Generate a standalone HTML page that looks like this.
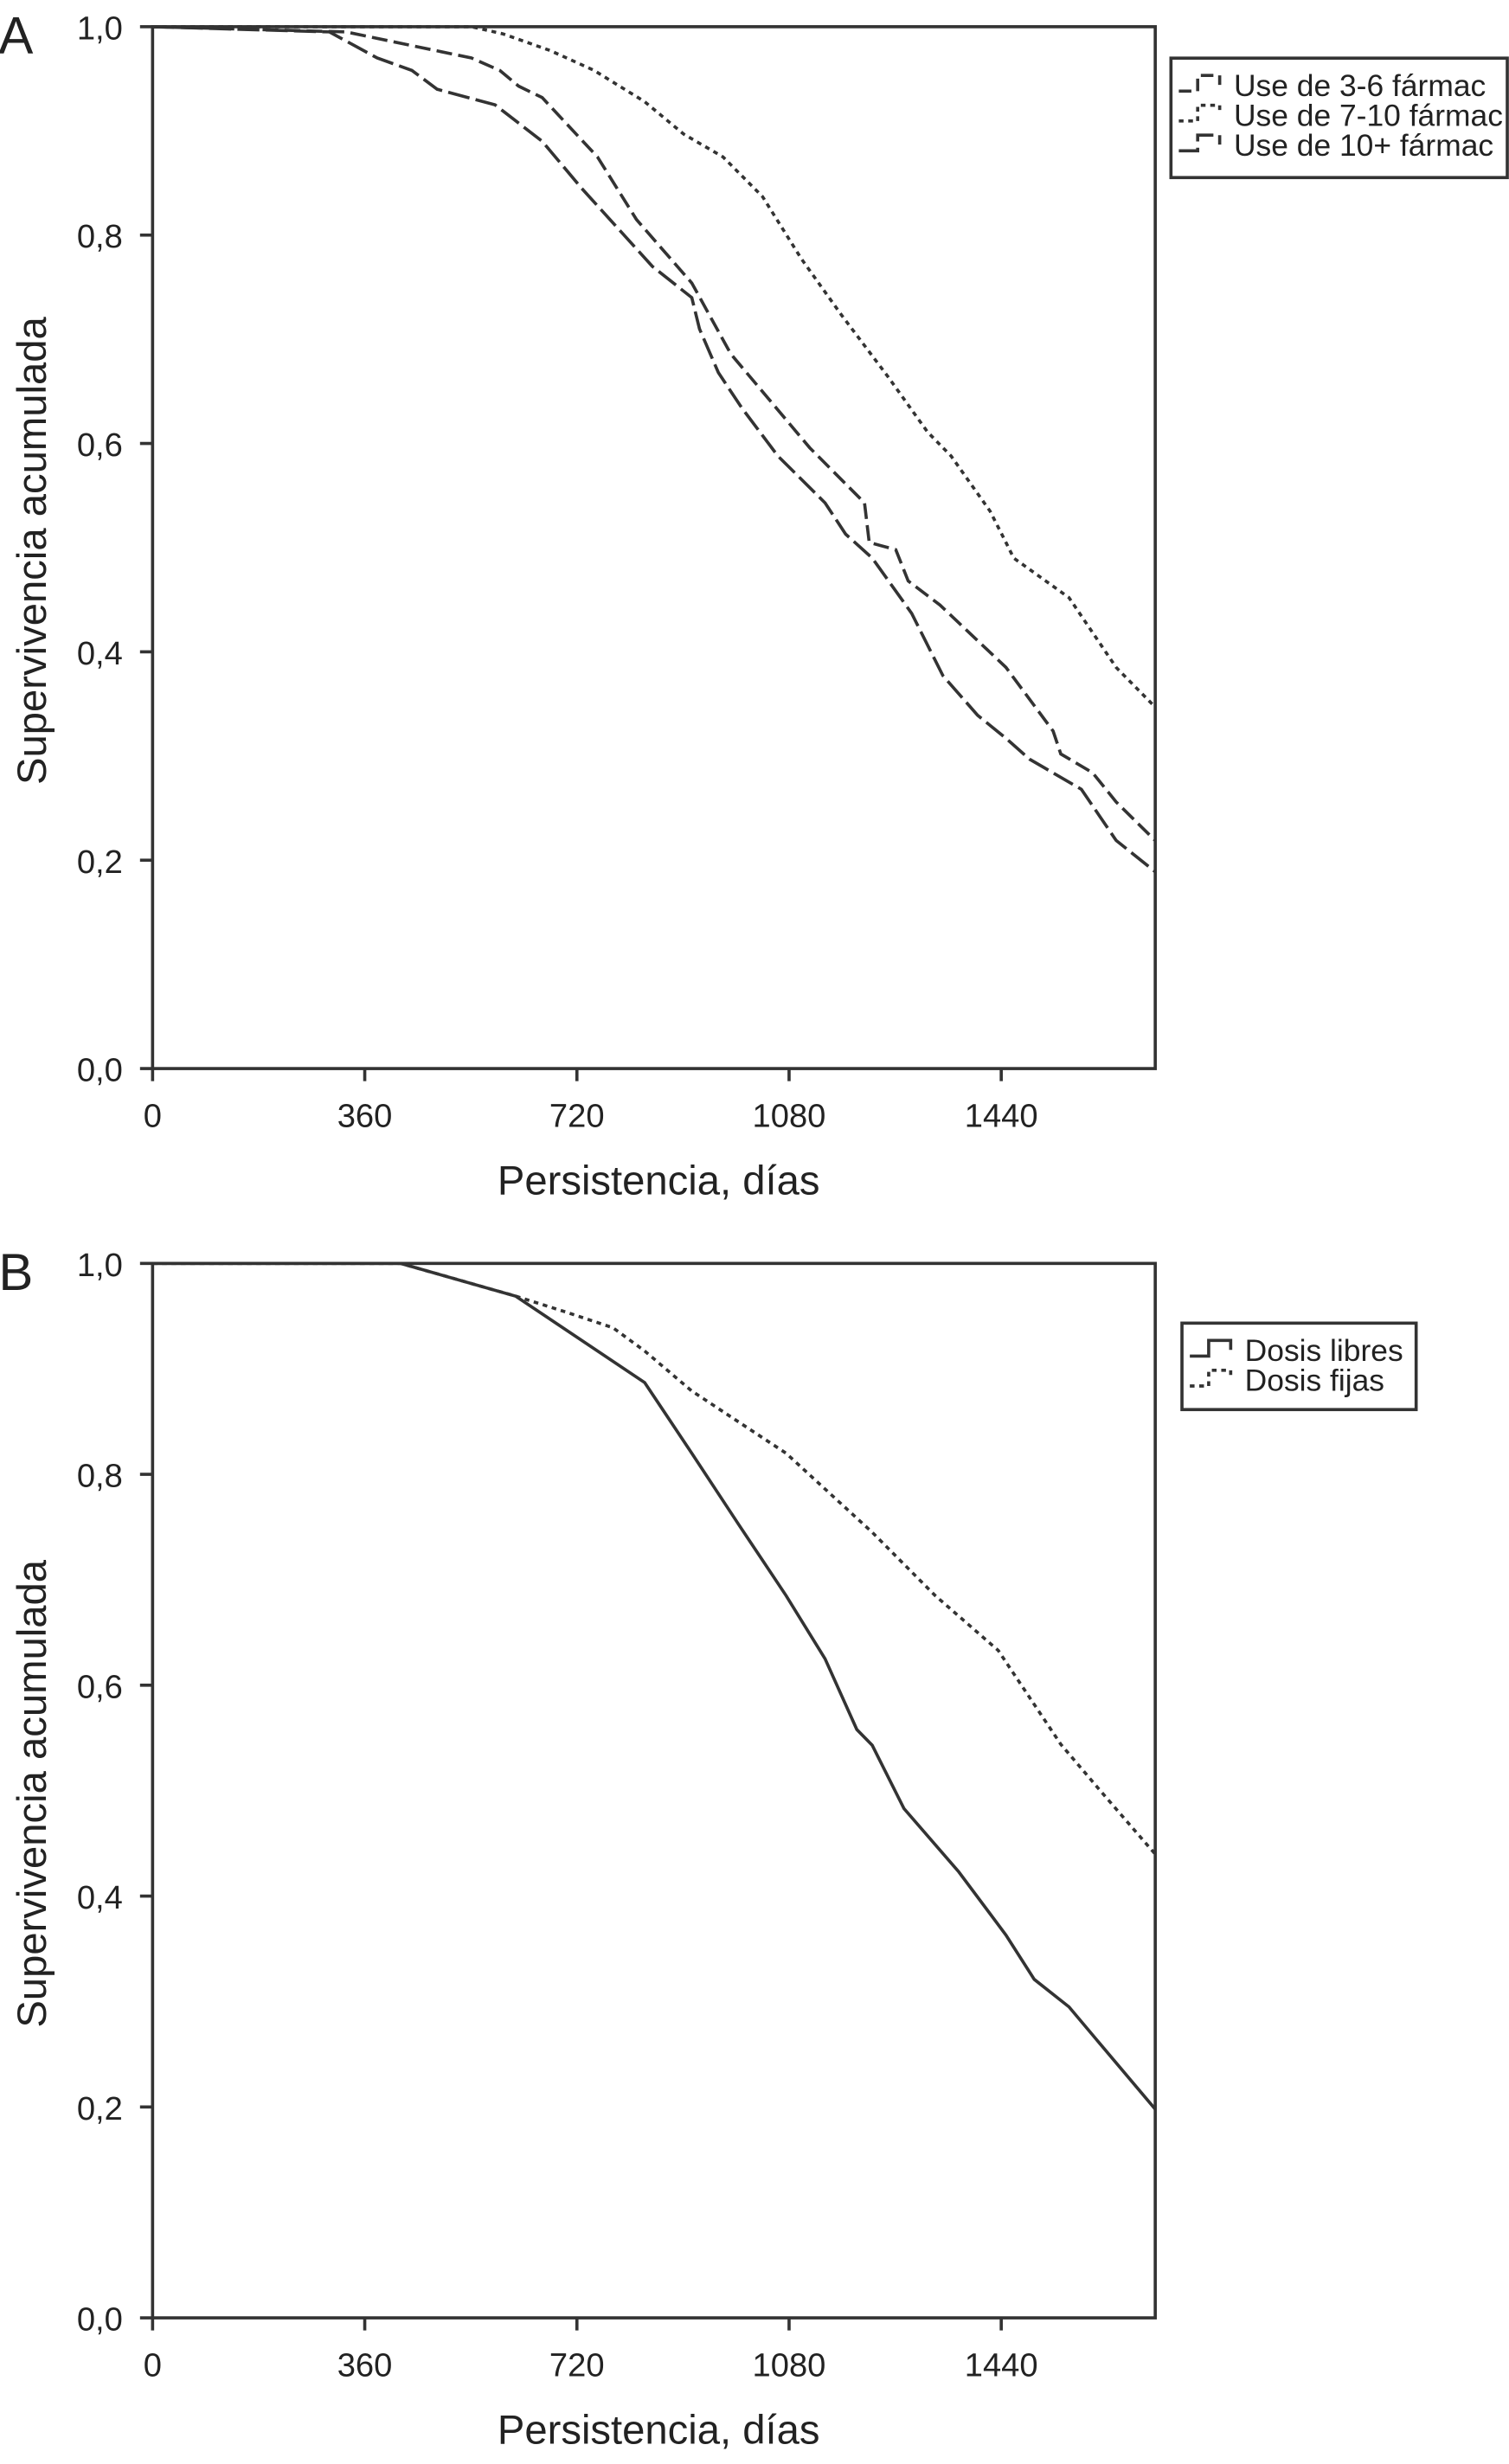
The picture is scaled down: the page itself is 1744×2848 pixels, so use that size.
<!DOCTYPE html>
<html><head><meta charset="utf-8"><style>
html,body{margin:0;padding:0;background:#fff}
svg{display:block}
text{font-family:"Liberation Sans",sans-serif;fill:#222}
</style></head><body>
<svg id="fig" width="1744" height="2848" viewBox="0 0 960 1568"></svg>
<script>
const xTicks=[0,360,720,1080,1440];
const yTicks=[0,0.2,0.4,0.6,0.8,1.0];
const yTickLabels=["0,0","0,2","0,4","0,6","0,8","1,0"];
const aDays36=[0,328,541,589,621,661,755,821,915,981,1115,1208,1216,1261,1282,1336,1448,1528,1541,1595,1635,1701];
const aSurv36=[1,0.995,0.97,0.958,0.943,0.932,0.875,0.815,0.754,0.686,0.596,0.543,0.505,0.498,0.468,0.445,0.385,0.324,0.302,0.284,0.256,0.219];
const aDays710=[0,541,595,675,749,835,901,968,1035,1101,1168,1248,1315,1355,1421,1448,1461,1555,1635,1701];
const aSurv710=[1,1,0.993,0.977,0.958,0.928,0.897,0.875,0.837,0.777,0.724,0.664,0.611,0.588,0.535,0.505,0.49,0.452,0.385,0.347];
const aDays10=[0,300,381,440,483,581,661,728,848,915,928,960,1000,1061,1141,1176,1221,1288,1341,1400,1448,1488,1576,1635,1701];
const aSurv10=[1,0.995,0.97,0.958,0.94,0.925,0.89,0.845,0.77,0.74,0.71,0.668,0.634,0.588,0.543,0.513,0.49,0.437,0.377,0.339,0.317,0.297,0.268,0.219,0.189];
const bDaysLib=[0,421,616,755,835,915,995,1075,1141,1195,1221,1275,1368,1448,1496,1555,1600,1701];
const bSurvLib=[1,1,0.969,0.917,0.887,0.82,0.752,0.685,0.625,0.558,0.543,0.483,0.423,0.363,0.321,0.295,0.265,0.198];
const bDaysFij=[0,421,616,701,781,835,915,1075,1221,1328,1435,1541,1608,1701];
const bSurvFij=[1,1,0.969,0.954,0.939,0.917,0.879,0.82,0.745,0.685,0.633,0.544,0.5,0.44];

const NS="http://www.w3.org/2000/svg";
const svg=document.getElementById('fig');
function mk(tag,attrs,parent){const e=document.createElementNS(NS,tag);for(const k in attrs)e.setAttribute(k,attrs[k]);(parent||svg).appendChild(e);return e;}

function panel(letter,top,bottom,series,legend){
  const L=97,R=735,maxD=(735-97)/0.375;
  const sx=d=>L+d*(R-L)/maxD;
  const sy=v=>bottom-v*(bottom-top);
  const g=mk('g',{});
  
  
  const lt=mk('text',{x:-1,y:top+17,'font-size':33},g);lt.textContent=letter;
  
  
  const box=mk('rect',{x:L,y:top,width:R-L,height:bottom-top,fill:'none',stroke:'#333','stroke-width':2},g);
  
  
  yTicks.forEach((v,i)=>{
    mk('line',{x1:L-8,x2:L,y1:sy(v),y2:sy(v),stroke:'#333','stroke-width':2},g);
    const t=mk('text',{x:L-19,y:sy(v)+8,'font-size':21,'text-anchor':'end'},g);t.textContent=yTickLabels[i];
    
    
  });
  xTicks.forEach(d=>{
    mk('line',{x1:sx(d),x2:sx(d),y1:bottom,y2:bottom+8,stroke:'#333','stroke-width':2},g);
    const t=mk('text',{x:sx(d),y:bottom+37,'font-size':21,'text-anchor':'middle'},g);t.textContent=d;
    
    
  });
  const xt=mk('text',{x:419,y:bottom+80,'font-size':26,'text-anchor':'middle'},g);xt.textContent='Persistencia, días';
  
  
  const yc=(top+bottom)/2+2;
  const yt=mk('text',{x:29,y:yc,'font-size':26,'text-anchor':'middle',transform:`rotate(-90 29 ${yc})`},g);yt.textContent='Supervivencia acumulada';
  
  
  series.forEach(s=>{
    const pts=s.d.map((d,i)=>sx(d).toFixed(1)+','+sy(s.v[i]).toFixed(1)).join(' ');
    const p=mk('polyline',{points:pts,fill:'none',stroke:'#333','stroke-width':2,'stroke-dasharray':s.dash||'none'},g);
    
    
  });
  const lg=mk('g',{},g);
  
  
  mk('rect',{x:legend.x,y:legend.y,width:legend.w,height:legend.h,fill:'#fff',stroke:'#333','stroke-width':2},lg);
  legend.items.forEach((it,i)=>{
    const yy=legend.y+17+i*19;
    mk('path',{d:`M${legend.x+5} ${yy+4} h12 v-10 h14 v6`,fill:'none',stroke:'#333','stroke-width':2,'stroke-dasharray':it.dash||'none'},lg);
    const t=mk('text',{x:legend.x+40,y:yy+7,'font-size':19.5},lg);t.textContent=it.label;
    
    
  });
}
panel('A',17,680,[
  {d:aDays36,v:aSurv36,dash:'10,4',name:'series-3-6-farmac'},
  {d:aDays710,v:aSurv710,dash:'3,3',name:'series-7-10-farmac'},
  {d:aDays10,v:aSurv10,dash:'14,4',name:'series-10plus-farmac'}
],{x:745,y:37,w:214,h:76,items:[{label:'Use de 3-6 fármac',dash:'8,4'},{label:'Use de 7-10 fármac',dash:'3,3'},{label:'Use de 10+ fármac',dash:'14,4'}]});
panel('B',804,1475,[
  {d:bDaysLib,v:bSurvLib,name:'series-dosis-libres'},
  {d:bDaysFij,v:bSurvFij,dash:'3,3',name:'series-dosis-fijas'}
],{x:752,y:842,w:149,h:55,items:[{label:'Dosis libres'},{label:'Dosis fijas',dash:'3,3'}]});
</script>
</body></html>
